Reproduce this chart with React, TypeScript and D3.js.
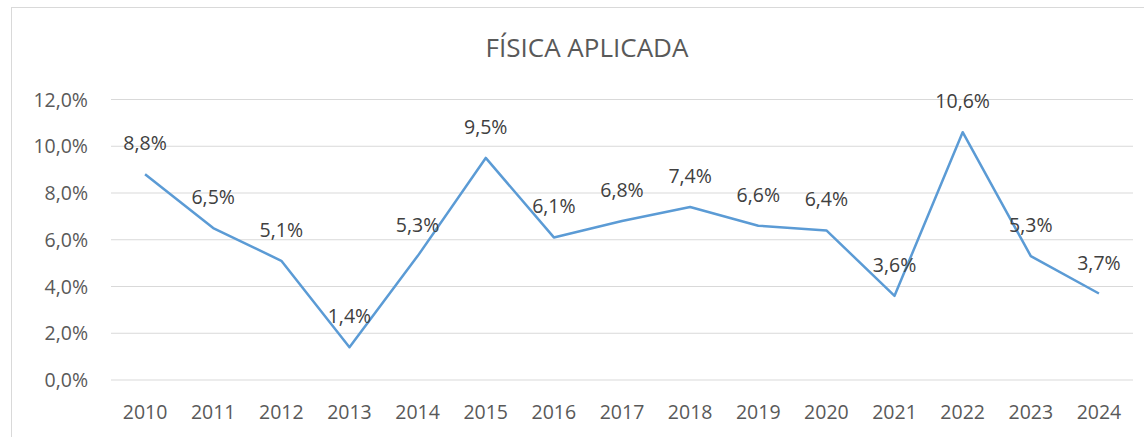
import React from 'react';
import * as d3 from 'd3';

const years = ['2010', '2011', '2012', '2013', '2014', '2015', '2016', '2017', '2018', '2019', '2020', '2021', '2022', '2023', '2024'];
const values = [8.8, 6.5, 5.1, 1.4, 5.3, 9.5, 6.1, 6.8, 7.4, 6.6, 6.4, 3.6, 10.6, 5.3, 3.7];
const yTicks = [0, 2, 4, 6, 8, 10, 12];
const title = 'FÍSICA APLICADA';

const fmt = (v: number) => v.toFixed(1).replace('.', ',') + '%';

export default function App() {
    const width = 1144;
    const height = 437;
    const margin = { t: 99.5, r: 11, b: 57, l: 111 };
    const font = "'Open Sans', 'Noto Sans', sans-serif";
    const textColor = '#595959';

    const x = d3.scaleBand()
        .domain(years)
        .range([margin.l, width - margin.r]);

    const y = d3.scaleLinear()
        .domain([0, 12])
        .range([height - margin.b, margin.t]);

    const line = d3.line<number>()
        .x((d, i) => x(years[i])! + x.bandwidth() / 2)
        .y(d => y(d));

    return (
        <svg width={width} height={height} style={{ position: 'absolute', left: 0, top: 0, background: 'white' }}>
            <rect x={11.5} y={7.5} width={1160} height={450} fill="white" stroke="#d9d9d9" strokeWidth={1} />
            <text x={587} y={57} textAnchor="middle" fontSize={26} fontFamily={font} fill={textColor}>{title}</text>
            {yTicks.map(t => (
                <g key={t}>
                    <line x1={margin.l} x2={width - margin.r} y1={y(t)} y2={y(t)} stroke="#d9d9d9" strokeWidth={1} />
                    <text x={88} y={y(t) + 7} textAnchor="end" fontSize={19.5} fontFamily={font} fill={textColor}>{fmt(t)}</text>
                </g>
            ))}
            {years.map(yr => (
                <text key={yr} x={x(yr)! + x.bandwidth() / 2} y={419} textAnchor="middle" fontSize={19.5} fontFamily={font} fill={textColor}>{yr}</text>
            ))}
            <path d={line(values)!} fill="none" stroke="#5B9BD5" strokeWidth={2.5} strokeLinejoin="round" />
            {values.map((v, i) => (
                <text key={i} x={x(years[i])! + x.bandwidth() / 2} y={y(v) - 24} textAnchor="middle" fontSize={19.5} fontFamily={font} fill="#404040">{fmt(v)}</text>
            ))}
        </svg>
    );
}
